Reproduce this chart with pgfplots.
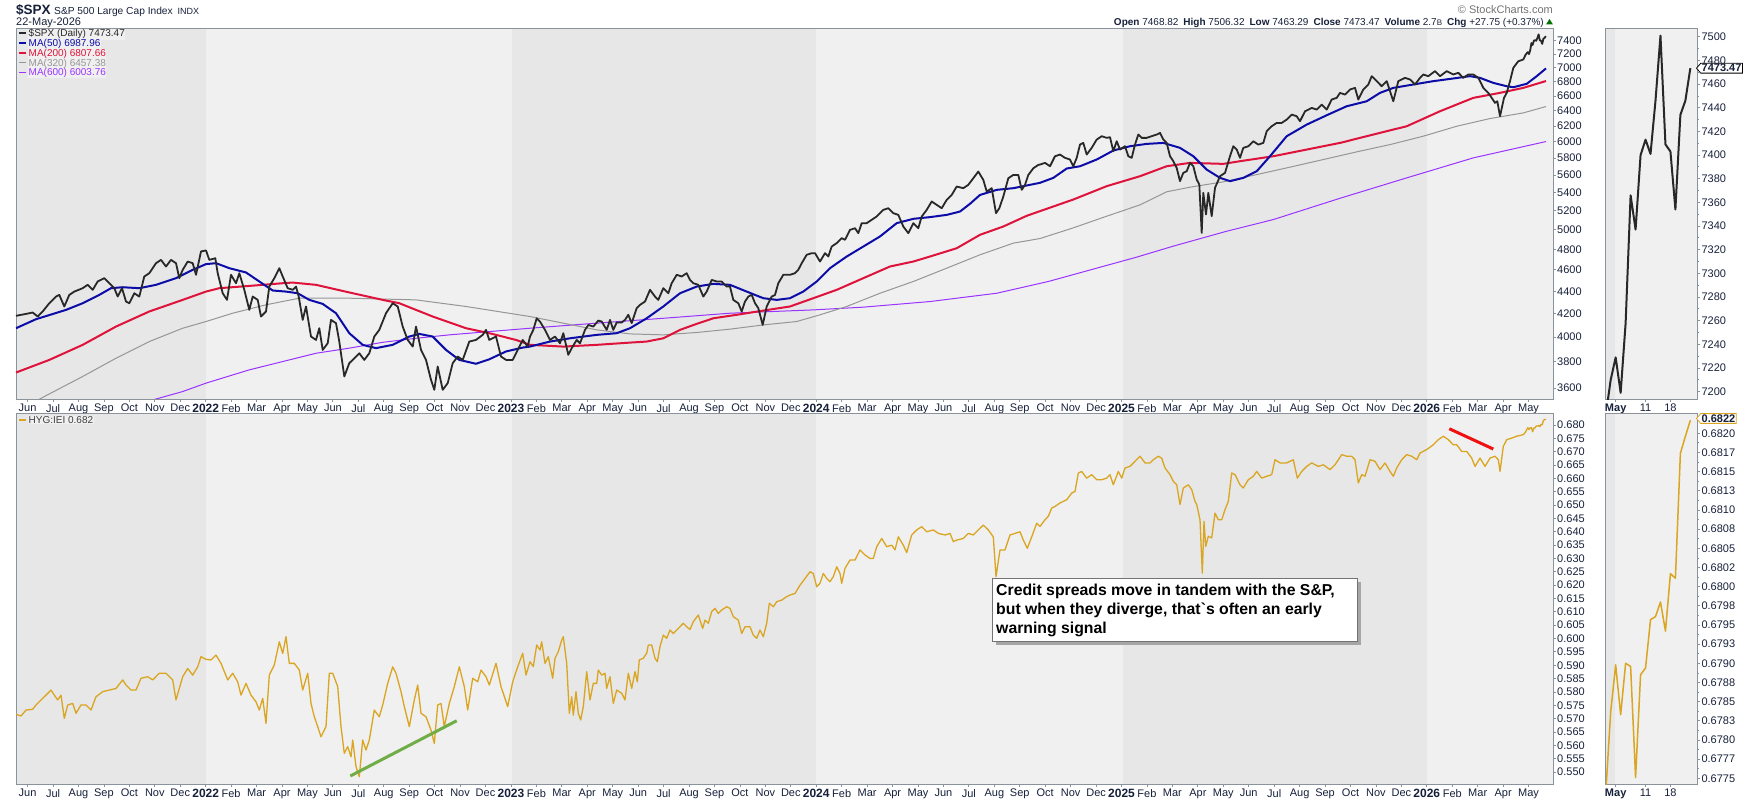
\documentclass[border=0pt]{standalone}
\usepackage{fontspec}
\setmainfont{Liberation Sans}
\usepackage{pgfplots}
\pgfplotsset{compat=1.18}
\usetikzlibrary{shapes.symbols}
\definecolor{frame}{RGB}{138,146,156}
\definecolor{txt}{RGB}{22,32,58}
\definecolor{bgdark}{RGB}{231,231,231}
\definecolor{bglight}{RGB}{240,240,240}
\definecolor{spx}{RGB}{40,40,40}
\definecolor{ma50}{RGB}{12,12,168}
\definecolor{ma200}{RGB}{222,18,58}
\definecolor{ma320}{RGB}{150,150,150}
\definecolor{ma600}{RGB}{153,51,255}
\definecolor{hyg}{RGB}{218,165,32}
\definecolor{grn}{RGB}{112,173,71}
\definecolor{redl}{RGB}{240,16,16}
\newcommand{\yr}[1]{{\fontsize{12}{12}\selectfont\bfseries #1}}
\pgfplotsset{
 panel/.style={scale only axis, axis line style={draw=frame, line width=0.8pt},
  tick style={draw=frame, line width=0.8pt}, major tick length=3pt, minor tick length=1.5pt,
  tick align=outside, xtick pos=bottom, ytick pos=right, yticklabel pos=right,
  ticklabel style={font=\fontsize{11}{11}\selectfont, text=txt},
  xticklabel style={anchor=north, inner sep=0pt, yshift=-2pt},
  yticklabel style={anchor=west, inner sep=0pt, xshift=1pt},
  /pgf/number format/assume math mode=true,
  every axis plot/.append style={line join=round}},
 monthticks/.style={xmin=16, xmax=1553, xtick={27.6,53.04,...,1530},
  xticklabels={Jun,Jul,Aug,Sep,Oct,Nov,Dec,\yr{2022},Feb,Mar,Apr,May,Jun,Jul,Aug,Sep,Oct,Nov,Dec,\yr{2023},Feb,Mar,Apr,May,Jun,Jul,Aug,Sep,Oct,Nov,Dec,\yr{2024},Feb,Mar,Apr,May,Jun,Jul,Aug,Sep,Oct,Nov,Dec,\yr{2025},Feb,Mar,Apr,May,Jun,Jul,Aug,Sep,Oct,Nov,Dec,\yr{2026},Feb,Mar,Apr,May}},
 smallticks/.style={xmin=0, xmax=18.4, xtick={2,8,13}, xticklabels={\textbf{May},11,18}}
}
\begin{document}
\begin{tikzpicture}
\useasboundingbox (0pt,0pt) rectangle (1750pt,-800pt);
\begin{scope}[x=1pt,y=-1pt]
% year bands
\foreach \ya/\yb in {28/399,413/784}{
 \fill[bgdark] (16,\ya) rectangle (205.7,\yb);
 \fill[bglight] (205.7,\ya) rectangle (512,\yb);
 \fill[bgdark] (512,\ya) rectangle (815.7,\yb);
 \fill[bglight] (815.7,\ya) rectangle (1123.3,\yb);
 \fill[bgdark] (1123.3,\ya) rectangle (1426.7,\yb);
 \fill[bglight] (1426.7,\ya) rectangle (1553,\yb);
 \fill[bgdark] (1605.7,\ya) rectangle (1615,\yb);
 \fill[bglight] (1615,\ya) rectangle (1697.3,\yb);
}
\end{scope}

% ===== top main =====
\begin{axis}[panel, monthticks, at={(16pt,-399pt)}, anchor=south west, width=1537pt, height=371pt,
 ymode=log, ymin=3518.7, ymax=7602,
 ytick={3600,3800,4000,4200,4400,4600,4800,5000,5200,5400,5600,5800,6000,6200,6400,6600,6800,7000,7200,7400},
 yticklabels={3600,3800,4000,4200,4400,4600,4800,5000,5200,5400,5600,5800,6000,6200,6400,6600,6800,7000,7200,7400}]
% MA600
\addplot[ma600, line width=1pt] coordinates {(130,3465)(159.3,3525)(182.7,3573)(206,3636)(249.3,3738)(282.7,3803)(316,3869)(349.3,3910)(382.7,3958)(416,3991)(449.3,4019)(482.7,4042)(530,4075)(596.7,4118)(663.3,4160)(730,4204)(813.3,4233)(863.3,4257)(930,4307)(996.7,4382)(1048.3,4490)(1136.7,4723)(1173.3,4832)(1226.7,4984)(1273.3,5106)(1340,5337)(1406.7,5568)(1473.3,5804)(1546,6004)};
% MA320
\addplot[ma320, line width=1pt] coordinates {(16,3425)(44.3,3536)(82.7,3687)(116,3829)(149.3,3964)(182.7,4075)(206,4132)(232.7,4204)(266,4278)(299.3,4337)(349.3,4337)(416,4322)(466,4263)(530,4175)(563.3,4118)(596.7,4061)(630,4027)(663.3,4019)(696.7,4039)(730,4067)(763.3,4103)(796.7,4132)(820,4190)(846.7,4263)(880,4382)(913.3,4490)(946.7,4616)(980,4746)(1013.3,4862)(1040,4909)(1073.3,5019)(1106.7,5142)(1140,5264)(1166.7,5409)(1190,5461)(1223.3,5522)(1256.7,5606)(1290,5693)(1323.3,5784)(1356.7,5877)(1390,5966)(1423.3,6071)(1456.7,6198)(1490,6298)(1523.3,6372)(1546,6457)};
% MA200
\addplot[ma200, line width=2pt] coordinates {(16,3717)(49.3,3816)(82.7,3937)(116,4089)(149.3,4219)(182.7,4322)(206,4397)(219.3,4428)(249.3,4449)(282.7,4474)(292.7,4480)(316,4459)(349.3,4389)(382.7,4322)(399.3,4292)(432.7,4175)(466,4075)(489.3,4033)(516,3978)(530,3937)(563.3,3923)(596.7,3937)(630,3956)(646.7,3964)(663.3,3991)(680,4061)(696.7,4112)(713.3,4160)(736.7,4190)(763.3,4227)(790,4263)(813.3,4337)(836.7,4413)(863.3,4521)(890,4632)(913.3,4680)(930,4729)(956.7,4811)(980,4947)(1003.3,5033)(1026.7,5146)(1040,5196)(1073.3,5323)(1106.7,5473)(1140,5587)(1166.7,5704)(1190,5744)(1223.3,5732)(1240,5764)(1273.3,5824)(1306.7,5905)(1340,5987)(1373.3,6092)(1406.7,6198)(1440,6394)(1473.3,6574)(1500,6643)(1523.3,6712)(1546,6808)};
% MA50
\addplot[ma50, line width=2pt] coordinates {(16,4075)(36,4152)(66,4233)(82.7,4292)(99.3,4367)(111,4428)(122.7,4437)(139.3,4428)(156,4459)(176,4521)(192.7,4600)(206,4655)(216,4664)(229.3,4616)(246,4575)(259.3,4490)(272.7,4407)(286,4397)(297.7,4382)(309.3,4322)(322.7,4286)(336,4204)(349.3,4033)(362.7,3937)(376,3910)(392.7,3937)(409.3,4005)(419.3,4027)(432.7,4005)(446,3896)(459.3,3816)(476,3785)(489.3,3821)(506,3883)(522.7,3915)(530,3923)(550,3964)(570,3991)(596.7,4019)(616.7,4033)(630,4075)(646.7,4160)(663.3,4263)(680,4382)(696.7,4443)(713.3,4468)(730,4459)(746.7,4397)(763.3,4337)(776.7,4322)(790,4337)(803.3,4397)(816.7,4490)(830,4616)(846.7,4729)(863.3,4828)(880,4930)(896.7,5068)(913.3,5114)(930,5132)(946.7,5156)(960,5192)(970,5276)(980,5374)(996.7,5431)(1013.3,5450)(1030,5488)(1040,5511)(1053.3,5568)(1066.7,5677)(1080,5704)(1096.7,5784)(1113.3,5893)(1130,5946)(1146.7,5975)(1163.3,5987)(1180,5926)(1193.3,5824)(1206.7,5664)(1220,5568)(1230,5530)(1243.3,5568)(1256.7,5645)(1270,5824)(1286.7,6071)(1306.7,6219)(1326.7,6341)(1346.7,6461)(1366.7,6528)(1380,6643)(1393.3,6712)(1413.3,6759)(1433.3,6806)(1453.3,6844)(1470,6877)(1480,6853)(1493.3,6782)(1506.7,6735)(1513.3,6721)(1526.7,6768)(1536.7,6877)(1546,6988)};
% SPX
\addplot[spx, line width=1.8pt] coordinates {(16.0,4181)(26.0,4198)(32.7,4210)(37.7,4175)(42.7,4219)(49.3,4292)(56.0,4352)(59.3,4367)(64.3,4263)(69.3,4367)(74.3,4397)(82.7,4428)(87.7,4459)(92.7,4413)(97.7,4490)(104.3,4521)(109.3,4474)(114.3,4428)(117.7,4352)(122.0,4428)(126.0,4307)(129.3,4292)(134.3,4382)(139.3,4352)(144.3,4537)(149.3,4568)(156.0,4664)(161.0,4696)(166.0,4632)(171.0,4696)(176.0,4664)(179.3,4521)(182.7,4600)(187.7,4680)(192.7,4664)(196.0,4553)(201.0,4779)(206.0,4789)(209.3,4696)(215.3,4712)(217.7,4568)(222.7,4382)(227.0,4322)(231.0,4553)(236.0,4474)(239.3,4568)(244.3,4413)(249.3,4233)(252.7,4352)(257.7,4322)(261.0,4175)(266.0,4219)(269.3,4443)(274.3,4521)(279.3,4616)(282.7,4537)(287.7,4428)(292.7,4413)(296.0,4443)(298.7,4352)(302.7,4146)(306.0,4263)(311.0,4005)(316.0,3978)(319.3,4075)(322.7,3896)(327.7,3950)(331.0,4146)(336.0,4118)(339.3,3964)(344.3,3687)(349.3,3790)(352.7,3816)(359.3,3869)(364.3,3816)(369.3,3869)(374.3,4005)(379.3,4061)(386.0,4204)(392.7,4292)(397.7,4263)(402.7,4089)(407.7,3978)(412.7,3923)(416.0,4089)(421.0,3896)(426.0,3816)(431.0,3661)(434.3,3586)(437.7,3764)(442.7,3586)(447.7,3636)(452.7,3790)(457.7,3843)(462.7,3816)(469.3,3964)(476.0,3978)(482.7,4019)(486.0,4061)(489.3,3978)(496.0,4005)(501.0,3843)(506.0,3816)(512.7,3816)(517.7,3896)(522.7,3978)(527.7,3923)
(530.0,4005)(533.3,4061)(536.7,4160)(540.0,4132)(545.0,4061)(550.0,3978)(555.0,4005)(560.0,3950)(563.3,4033)(568.3,3856)(571.7,3910)(576.7,3978)(580.0,3950)(585.0,4061)(588.3,4103)(593.3,4089)(598.3,4140)(601.7,4132)(606.7,4061)(610.0,4146)(613.3,4061)(616.7,4124)(621.7,4124)(625.0,4146)(628.3,4190)(631.7,4118)(636.7,4248)(640.0,4277)(645.0,4307)(650.0,4413)(655.0,4352)(658.3,4322)(663.3,4428)(668.3,4382)(671.7,4474)(676.7,4553)(681.7,4537)(686.7,4568)(690.0,4505)(693.3,4474)(698.3,4459)(703.3,4352)(706.7,4397)(711.7,4505)(716.7,4490)(721.7,4490)(726.7,4443)(730.0,4443)(733.3,4322)(738.3,4292)(741.7,4219)(745.0,4307)(748.3,4352)(751.7,4367)(755.0,4292)(758.3,4248)(762.7,4103)(766.7,4263)(771.7,4352)(775.0,4367)(778.3,4474)(783.3,4553)(790.0,4553)(795.0,4568)(798.3,4600)(801.7,4664)(806.7,4746)(811.7,4762)(815.0,4762)(820.0,4680)(825.0,4762)(828.3,4729)(831.7,4828)(836.7,4862)(841.7,4913)(845.0,4896)(850.0,4998)(855.0,5015)(858.3,4964)(861.7,5068)(866.7,5068)(871.7,5103)(876.7,5139)(883.3,5210)(888.3,5228)(893.3,5174)(898.3,5156)(903.3,5033)(908.3,4964)(913.3,5068)(918.3,5015)(921.7,5139)(926.7,5210)(931.7,5301)(936.7,5264)(941.7,5228)(946.7,5319)(951.7,5374)(956.7,5469)(963.3,5450)(968.3,5488)(973.3,5564)(978.3,5641)(983.3,5545)(986.7,5412)(991.7,5450)(996.0,5174)(999.3,5228)(1003.3,5356)(1008.3,5564)(1013.3,5602)(1018.3,5602)(1021.7,5431)(1025.0,5488)(1028.3,5602)(1033.3,5680)(1038.3,5720)
(1040.0,5724)(1045.0,5744)(1050.0,5704)(1055.0,5824)(1060.0,5844)(1065.0,5804)(1070.0,5784)(1073.3,5704)(1076.7,5804)(1080.0,5966)(1083.3,5987)(1086.7,5844)(1091.7,5926)(1096.7,6029)(1101.7,6071)(1106.7,6050)(1110.0,6059)(1113.3,5885)(1116.7,6008)(1120.0,5905)(1125.0,5946)(1128.3,5824)(1131.7,5804)(1135.0,5966)(1138.3,6092)(1141.7,6050)(1146.7,6050)(1151.7,6071)(1156.7,6092)(1160.0,6113)(1163.3,6029)(1166.7,5987)(1170.0,5824)(1173.3,5764)(1176.7,5684)(1180.0,5530)(1183.3,5626)(1186.7,5645)(1190.0,5744)(1193.3,5704)(1196.7,5549)(1199.3,5492)(1201.7,4967)(1203.3,5397)(1206.0,5160)(1208.3,5397)(1211.7,5142)(1215.0,5454)(1220.0,5587)(1225.0,5626)(1230.0,5824)(1233.3,5946)(1236.7,5905)(1240.0,5804)(1243.3,5926)(1248.3,5946)(1253.3,6008)(1258.3,5966)(1263.3,5987)(1266.7,6134)(1271.7,6198)(1276.7,6241)(1281.7,6241)(1286.7,6284)(1291.7,6350)(1296.7,6328)(1300.0,6263)(1305.0,6394)(1311.7,6438)(1316.7,6416)(1321.7,6483)(1326.7,6416)(1331.7,6551)(1336.7,6574)(1340.0,6643)(1345.0,6619)(1350.0,6689)(1355.0,6712)(1358.3,6551)(1363.3,6689)(1368.3,6759)(1371.7,6877)(1376.7,6806)(1381.7,6735)(1386.7,6806)(1390.0,6666)(1393.3,6528)(1398.3,6806)(1405.0,6853)(1410.0,6830)(1415.0,6759)(1420.0,6853)(1423.3,6901)(1428.3,6877)(1435.0,6949)(1440.0,6877)(1446.7,6949)(1453.3,6901)(1458.3,6925)(1463.3,6853)(1468.3,6901)(1473.3,6901)(1478.3,6853)(1483.3,6712)(1488.3,6643)(1491.7,6574)(1495.0,6506)(1497.3,6528)(1500.0,6328)(1504.0,6574)(1506.7,6643)(1510.0,6806)(1513.3,6997)(1518.3,7094)(1523.3,7119)
(1525.4,7185)(1526.6,7210)(1527.8,7229)(1529.0,7199)(1530.2,7258)(1531.4,7366)(1532.6,7337)(1533.8,7400)(1535.0,7413)(1536.2,7401)(1537.4,7446)(1538.6,7501)(1539.8,7409)(1541.0,7403)(1542.2,7354)(1543.4,7434)(1544.6,7446)(1545.8,7473)};
\end{axis}

% ===== top small =====
\begin{axis}[panel, smallticks, at={(1605.7pt,-399pt)}, anchor=south west, width=91.6pt, height=371pt,
 ymin=7193.8, ymax=7507.4, ytick={7200,7220,...,7500}, minor y tick num=1,
 yticklabel style={/pgf/number format/1000 sep={}}]
\addplot[spx, line width=2pt] coordinates {(0,7180)(1,7210)(2,7229)(3,7199)(4,7258)(5,7366)(6,7337)(7,7400)(8,7413)(9,7401)(10,7446)(11,7501)(12,7409)(13,7403)(14,7354)(15,7434)(16,7446)(17,7473.47)};
\end{axis}

% ===== bottom main =====
\begin{axis}[panel, monthticks, at={(16pt,-784pt)}, anchor=south west, width=1537pt, height=371pt,
 ymin=0.5455, ymax=0.6845,
 ytick={0.550,0.555,0.560,0.565,0.570,0.575,0.580,0.585,0.590,0.595,0.600,0.605,0.610,0.615,0.620,0.625,0.630,0.635,0.640,0.645,0.650,0.655,0.660,0.665,0.670,0.675,0.680},
 yticklabels={0.550,0.555,0.560,0.565,0.570,0.575,0.580,0.585,0.590,0.595,0.600,0.605,0.610,0.615,0.620,0.625,0.630,0.635,0.640,0.645,0.650,0.655,0.660,0.665,0.670,0.675,0.680}]
\addplot[hyg, line width=1.3pt] coordinates {(16.0,0.5716)(21.0,0.5710)(26.0,0.5732)(32.7,0.5735)(36.0,0.5751)(41.0,0.5770)(46.0,0.5788)(51.0,0.5807)(54.3,0.5788)(57.7,0.5770)(61.0,0.5788)(64.3,0.5701)(67.7,0.5751)(72.7,0.5757)(76.0,0.5720)(81.0,0.5751)(86.0,0.5751)(91.0,0.5732)(96.0,0.5782)(102.7,0.5801)(109.3,0.5807)(116.0,0.5813)(122.7,0.5845)(126.0,0.5826)(131.0,0.5807)(136.0,0.5807)(141.0,0.5851)(147.7,0.5857)(152.7,0.5845)(159.3,0.5870)(166.0,0.5870)(172.7,0.5845)(176.0,0.5770)(179.3,0.5813)(182.7,0.5857)(187.7,0.5888)(192.7,0.5863)(197.7,0.5894)(201.0,0.5932)(206.0,0.5922)(211.0,0.5920)(216.0,0.5938)(221.0,0.5907)(227.7,0.5845)(232.7,0.5870)(237.7,0.5838)(241.0,0.5788)(246.0,0.5832)(251.0,0.5788)(256.0,0.5763)(259.3,0.5732)(262.7,0.5776)(266.0,0.5682)(269.3,0.5863)(274.3,0.5901)(279.3,0.5988)(282.7,0.5944)(286.0,0.6007)(289.3,0.5907)(294.3,0.5907)(299.3,0.5882)(302.7,0.5807)(307.7,0.5870)(311.0,0.5757)(314.3,0.5707)(317.7,0.5670)(321.0,0.5632)(326.0,0.5670)(329.3,0.5870)(332.7,0.5870)(337.7,0.5820)(341.0,0.5670)(344.3,0.5570)(347.7,0.5595)(351.0,0.5557)(352.7,0.5620)(356.0,0.5520)(359.3,0.5482)(362.7,0.5620)(366.0,0.5582)(369.3,0.5620)(374.3,0.5732)(379.3,0.5707)(382.7,0.5751)(387.7,0.5832)(392.7,0.5894)(396.0,0.5870)(401.0,0.5801)(404.3,0.5745)(409.3,0.5670)(414.3,0.5770)(417.7,0.5826)(421.0,0.5720)(426.0,0.5707)(431.0,0.5657)(434.3,0.5607)(437.7,0.5751)(441.0,0.5757)(444.3,0.5670)(449.3,0.5757)(454.3,0.5820)(459.3,0.5894)(464.3,0.5820)(467.7,0.5732)(472.7,0.5851)(477.7,0.5838)(481.0,0.5882)(486.0,0.5857)(489.3,0.5826)(496.0,0.5907)(501.0,0.5820)(507.7,0.5745)(512.7,0.5838)(517.7,0.5894)(522.7,0.5945)(526.0,0.5863)
(530.0,0.5913)(533.3,0.5895)(536.7,0.5976)(540.0,0.5957)(541.7,0.5988)(545.0,0.5907)(548.3,0.5932)(552.7,0.5851)(555.0,0.5926)(558.3,0.5951)(561.7,0.5994)(563.3,0.6007)(566.7,0.5907)(569.3,0.5720)(571.7,0.5782)(573.3,0.5713)(576.0,0.5801)(578.3,0.5720)(580.7,0.5695)(583.3,0.5745)(586.7,0.5876)(590.0,0.5770)(593.3,0.5832)(596.7,0.5832)(598.3,0.5882)(601.7,0.5863)(605.0,0.5870)(606.7,0.5813)(610.0,0.5857)(613.3,0.5757)(616.7,0.5807)(621.7,0.5795)(625.0,0.5770)(628.3,0.5870)(631.7,0.5813)(635.0,0.5876)(637.3,0.5838)(639.3,0.5920)(643.3,0.5926)(646.7,0.5945)(648.3,0.5976)(651.7,0.5976)(655.0,0.5926)(657.3,0.5913)(660.0,0.5970)(663.3,0.6013)(666.7,0.6001)(670.0,0.6032)(673.3,0.6019)(678.3,0.6038)(683.3,0.6057)(686.7,0.6044)(690.0,0.6034)(693.3,0.6063)(698.3,0.6088)(702.7,0.6038)(705.0,0.6069)(708.3,0.6057)(711.7,0.6101)(715.0,0.6113)(718.3,0.6094)(721.7,0.6107)(726.7,0.6119)(730.0,0.6113)(733.3,0.6082)(738.3,0.6069)(741.7,0.6019)(745.0,0.6044)(750.0,0.6044)(753.3,0.6013)(756.7,0.6001)(760.0,0.6032)(763.3,0.6007)(766.7,0.6057)(769.3,0.6132)(773.3,0.6119)(776.7,0.6138)(781.7,0.6144)(786.7,0.6157)(790.0,0.6163)(795.0,0.6169)(800.0,0.6200)(805.0,0.6225)(810.0,0.6250)(813.3,0.6244)(816.7,0.6194)(820.0,0.6207)(823.3,0.6244)(826.7,0.6225)(830.0,0.6213)(833.3,0.6232)(836.7,0.6269)(840.0,0.6244)(841.7,0.6207)(845.0,0.6263)(850.0,0.6294)(855.0,0.6294)(860.0,0.6332)(865.0,0.6313)(870.0,0.6300)(873.3,0.6300)(876.7,0.6344)(881.7,0.6375)(886.7,0.6344)(891.7,0.6350)(895.0,0.6332)(898.3,0.6381)(903.3,0.6350)(906.7,0.6322)(911.7,0.6388)(916.7,0.6407)(921.7,0.6419)(926.7,0.6400)(933.3,0.6407)(938.3,0.6394)(945.0,0.6388)(950.0,0.6394)(953.3,0.6363)(956.7,0.6369)(963.3,0.6375)(968.3,0.6394)(973.3,0.6388)(978.3,0.6407)(983.3,0.6425)(988.3,0.6407)(993.3,0.6381)(996.0,0.6232)(1000.0,0.6332)(1005.0,0.6332)(1010.0,0.6388)(1015.0,0.6394)(1020.0,0.6400)(1023.3,0.6369)(1027.3,0.6338)(1031.7,0.6381)(1036.7,0.6432)
(1040.0,0.6420)(1045.0,0.6445)(1048.3,0.6458)(1051.7,0.6489)(1055.0,0.6495)(1060.0,0.6508)(1063.3,0.6514)(1066.7,0.6520)(1071.7,0.6545)(1075.0,0.6551)(1078.3,0.6620)(1081.7,0.6626)(1086.7,0.6601)(1091.7,0.6614)(1096.7,0.6595)(1101.7,0.6595)(1106.7,0.6601)(1110.0,0.6614)(1113.3,0.6576)(1118.3,0.6626)(1121.7,0.6601)(1125.0,0.6639)(1130.0,0.6645)(1135.0,0.6664)(1140.0,0.6683)(1145.0,0.6658)(1150.0,0.6658)(1153.3,0.6670)(1158.3,0.6683)(1161.7,0.6676)(1165.0,0.6639)(1170.0,0.6614)(1173.3,0.6589)(1176.7,0.6576)(1180.0,0.6502)(1183.3,0.6564)(1188.3,0.6576)(1191.7,0.6558)(1195.0,0.6514)(1196.7,0.6502)(1200.0,0.6445)(1202.3,0.6245)(1204.0,0.6439)(1205.7,0.6345)(1208.3,0.6383)(1211.7,0.6377)(1215.0,0.6470)(1218.3,0.6445)(1221.7,0.6445)(1225.0,0.6483)(1228.3,0.6514)(1231.7,0.6620)(1235.0,0.6614)(1240.0,0.6576)(1243.3,0.6564)(1248.3,0.6595)(1253.3,0.6608)(1256.7,0.6626)(1261.7,0.6601)(1266.7,0.6608)(1271.7,0.6614)(1275.0,0.6670)(1280.0,0.6658)(1286.7,0.6658)(1293.3,0.6670)(1297.3,0.6601)(1301.7,0.6626)(1306.7,0.6645)(1311.7,0.6658)(1318.3,0.6645)(1323.3,0.6651)(1330.0,0.6633)(1335.0,0.6651)(1341.7,0.6689)(1346.7,0.6683)(1351.7,0.6683)(1355.0,0.6670)(1358.3,0.6583)(1361.7,0.6614)(1365.0,0.6608)(1370.0,0.6670)(1375.0,0.6664)(1380.0,0.6633)(1385.0,0.6658)(1390.0,0.6626)(1393.3,0.6608)(1396.7,0.6639)(1401.7,0.6670)(1406.7,0.6689)(1411.7,0.6683)(1416.7,0.6670)(1420.0,0.6695)(1426.7,0.6708)(1433.3,0.6726)(1438.3,0.6745)(1443.3,0.6758)(1448.3,0.6745)(1453.3,0.6726)(1456.7,0.6726)(1461.7,0.6701)(1466.7,0.6701)(1471.7,0.6676)(1475.0,0.6645)(1480.0,0.6676)(1485.0,0.6645)(1490.0,0.6676)(1495.0,0.6683)(1498.3,0.6670)(1500.0,0.6626)(1503.3,0.6720)(1506.7,0.6745)(1511.7,0.6751)(1516.7,0.6758)(1523.3,0.6764)
(1525.4,0.6773)(1527.8,0.6790)(1529.0,0.6783)(1530.2,0.6790)(1531.4,0.6790)(1532.6,0.6775)(1533.8,0.6789)(1535.0,0.6789)(1536.2,0.6796)(1537.4,0.6796)(1538.6,0.6798)(1539.8,0.6794)(1541.0,0.6802)(1542.2,0.6801)(1543.4,0.6817)(1544.6,0.6820)(1545.8,0.6822)};
\addplot[grn, line width=3pt] coordinates {(350.3,0.5485)(456.7,0.5692)};
\addplot[redl, line width=3pt] coordinates {(1449.3,0.6786)(1493.3,0.6710)};
\end{axis}

% ===== bottom small =====
\begin{axis}[panel, smallticks, at={(1605.7pt,-784pt)}, anchor=south west, width=91.6pt, height=371pt,
 ymin=0.677426, ymax=0.682265, minor y tick num=1,
 ytick={0.6775,0.67775,0.678,0.67825,0.6785,0.67875,0.679,0.67925,0.6795,0.67975,0.68,0.68025,0.6805,0.68075,0.681,0.68125,0.6815,0.68175,0.682},
 yticklabels={0.6775,0.6777,0.6780,0.6783,0.6785,0.6788,0.6790,0.6793,0.6795,0.6798,0.6800,0.6802,0.6805,0.6808,0.6810,0.6813,0.6815,0.6817,0.6820}]
\addplot[hyg, line width=1.5pt] coordinates {(0,0.6773)(1,0.67837)(2,0.67898)(3,0.67833)(4,0.67900)(5,0.67896)(6,0.67751)(7,0.67885)(8,0.67894)(9,0.67957)(10,0.67961)(11,0.67980)(12,0.67942)(13,0.68017)(14,0.68011)(15,0.68174)(16,0.68196)(17,0.68217)};
\end{axis}

\begin{scope}[x=1pt,y=-1pt]
% header
\node[anchor=base west, inner sep=0pt, text=txt] at (16,15) {{\fontsize{13.5}{14}\selectfont\bfseries \$SPX}\hspace{3.5pt}{\fontsize{10.2}{11}\selectfont S\&P 500 Large Cap Index}\hspace{5pt}{\fontsize{9}{9}\selectfont INDX}};
\node[anchor=base west, inner sep=0pt, font=\fontsize{11}{11}\selectfont, text=txt] at (16,26) {22-May-2026};
\node[anchor=base east, inner sep=0pt, font=\fontsize{11}{11}\selectfont, text=black!55] at (1553,14) {© StockCharts.com};
\node[anchor=base east, inner sep=0pt, font=\fontsize{10}{10}\selectfont, text=txt] at (1544,25.5) {\textbf{Open} 7468.82\hspace{5pt}\textbf{High} 7506.32\hspace{5pt}\textbf{Low} 7463.29\hspace{5pt}\textbf{Close} 7473.47\hspace{5pt}\textbf{Volume} 2.7{\fontsize{8}{8}\selectfont B}\hspace{5pt}\textbf{Chg} +27.75 (+0.37\%)};
\fill[green!45!black] (1546,24.5) -- (1553,24.5) -- (1549.5,19) -- cycle;
% legends top
\foreach \c/\t/\y/\w in {spx/{\$SPX (Daily) 7473.47}/0/2,ma50/{MA(50) 6987.96}/1/2,ma200/{MA(200) 6807.66}/2/2,ma320/{MA(320) 6457.38}/3/1.5,ma600/{MA(600) 6003.76}/4/1.5}{
 \draw[\c, line width=\w pt] (19,33.5+9.7*\y) -- (26,33.5+9.7*\y);
 \node[anchor=base west, inner sep=0.5pt, fill=bglight, font=\fontsize{10}{10}\selectfont, text=\c] at (28,37+9.7*\y) {\t};
}
\draw[hyg, line width=2pt] (19,419.5) -- (26,419.5);
\node[anchor=base west, inner sep=0.5pt, fill=bglight, font=\fontsize{10}{10}\selectfont, text=black!75] at (28,423) {HYG:IEI 0.682};
% price markers
\node[signal, signal to=west, signal pointer angle=100, draw=black, line width=0.8pt, fill=white, inner sep=1pt, font=\fontsize{11}{11}\selectfont\bfseries, text=txt, anchor=west] at (1696,68.2) {7473.47};
\node[signal, signal to=west, signal pointer angle=100, draw=hyg, line width=0.8pt, fill=white, inner sep=1pt, font=\fontsize{11}{11}\selectfont\bfseries, text=txt, anchor=west] at (1696,418.5) {0.6822};
% annotation
\fill[black!35] (996,581.5) rectangle (1360.5,644.5);
\draw[black!55, fill=white, line width=0.8pt] (992.7,578.3) rectangle (1357.3,641.3);
\node[anchor=base west, inner sep=0pt, font=\fontsize{15.8}{19}\selectfont\bfseries] at (996,595.7) {Credit spreads move in tandem with the S\&P,};
\node[anchor=base west, inner sep=0pt, font=\fontsize{15.8}{19}\selectfont\bfseries] at (996,614.7) {but when they diverge, that\textasciigrave s often an early};
\node[anchor=base west, inner sep=0pt, font=\fontsize{15.8}{19}\selectfont\bfseries] at (996,633.7) {warning signal};
\end{scope}
\end{tikzpicture}
\end{document}
